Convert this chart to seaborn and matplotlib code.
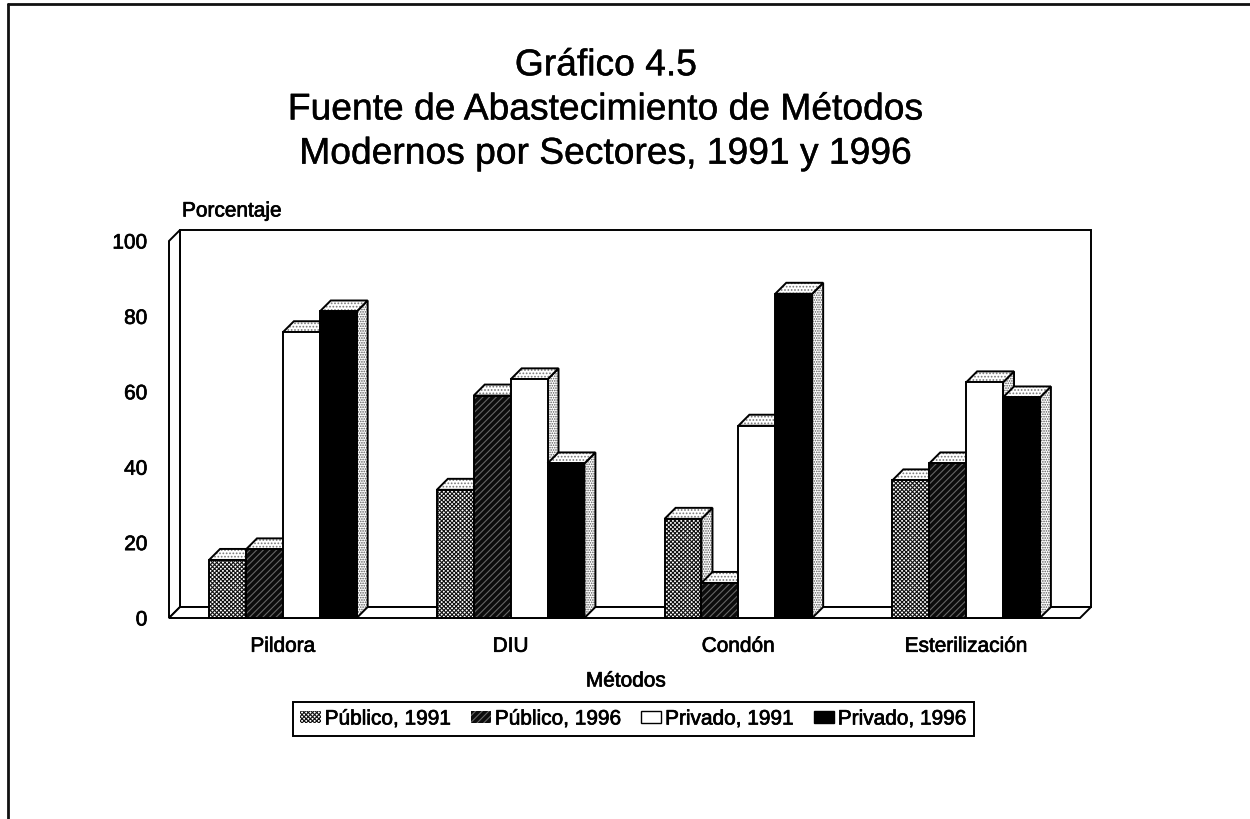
import matplotlib
matplotlib.use("Agg")
import matplotlib.pyplot as plt
import matplotlib.patheffects as pe
from matplotlib.patches import Polygon, Rectangle
from matplotlib.lines import Line2D
import pandas as pd
import seaborn as sns

metodos = ["Pildora", "DIU", "Condón", "Esterilización"]
publico_1991 = [15.4, 34, 26.3, 36.5]
publico_1996 = [18.2, 59, 9.3, 41]
privado_1991 = [75.8, 63.3, 51, 62.5]
privado_1996 = [81.3, 41, 86, 58.5]
series = ["Público, 1991", "Público, 1996", "Privado, 1991", "Privado, 1996"]
title_lines = "Gráfico 4.5\nFuente de Abastecimiento de Métodos\nModernos por Sectores, 1991 y 1996"

sns.set_theme(style="white")
plt.rcParams["font.family"] = ["Liberation Sans", "DejaVu Sans"]
plt.rcParams["hatch.linewidth"] = 0.8

df = pd.DataFrame({
    "Métodos": metodos * 4,
    "Sector": [s for s in series for _ in metodos],
    "Porcentaje": publico_1991 + publico_1996 + privado_1991 + privado_1996,
})

W, H = 1250, 820
fig = plt.figure(figsize=(12.5, 8.2), dpi=100, facecolor="white")
ax = fig.add_axes([169 / W, 1 - 619 / H, 911 / W, 377 / H])
ax.patch.set_visible(False)

styles = {
    series[0]: dict(face="white", hatch_col="#111111", hatch="xxxxxxxx"),
    series[1]: dict(face="#0c0c0c", hatch_col="#666666", hatch="/////"),
    series[2]: dict(face="white", hatch_col="white", hatch=None),
    series[3]: dict(face="black", hatch_col="black", hatch=None),
}
palette = {k: v["face"] for k, v in styles.items()}
sns.barplot(data=df, x="Métodos", y="Porcentaje", hue="Sector", order=metodos,
            hue_order=series, palette=palette, saturation=1, width=0.648, gap=0,
            dodge=True, legend=False, ax=ax)
ax.set_xlim(-0.5, 3.5)
ax.set_ylim(0, 100)

# 3D depth expressed in data units
dx = 11 / (911 / 4)
dy = 11 / 3.77
ax.set_yticks(range(0, 101, 20))

def poly(pts, face="white", hatch=None, z=1, lw=1.4, edge="black"):
    p = Polygon(pts, closed=True, facecolor=face, edgecolor=edge, lw=lw, hatch=hatch,
                joinstyle="miter", zorder=z, clip_on=False)
    ax.add_patch(p)
    return p

x0, x1 = ax.get_xlim()
y0, y1 = ax.get_ylim()
poly([(x0 + dx, y0 + dy), (x1 + dx, y0 + dy), (x1 + dx, y1 + dy), (x0 + dx, y1 + dy)], z=1)
poly([(x0, y0), (x0 + dx, y0 + dy), (x0 + dx, y1 + dy), (x0, y1)], z=1.1)
poly([(x0, y0), (x1, y0), (x1 + dx, y0 + dy), (x0 + dx, y0 + dy)], z=1.2)

z = 3.0
for n, cat in enumerate(metodos):
    for cont, name in zip(ax.containers, series):
        bar = cont[n]
        l, w, h = bar.get_x(), bar.get_width(), bar.get_height()
        st = styles[name]
        side_pts = [(l + w, 0), (l + w + dx, dy), (l + w + dx, h + dy), (l + w, h)]
        top_pts = [(l, h), (l + w, h), (l + w + dx, h + dy), (l + dx, h + dy)]
        poly(side_pts, hatch=".......", z=z, lw=0, edge="#555555")
        poly(side_pts, face="none", z=z + 0.01)
        poly(top_pts, hatch=".....", z=z + 0.02, lw=0, edge="#777777")
        poly(top_pts, face="none", z=z + 0.03)
        bar.set_zorder(z + 0.04)
        bar.set_facecolor(st["face"])
        bar.set_edgecolor(st["hatch_col"])
        bar.set_linewidth(0)
        if st["hatch"]:
            bar.set_hatch(st["hatch"])
        ax.add_patch(Rectangle((l, 0), w, h, fill=False, edgecolor="black", lw=1.4,
                               zorder=z + 0.05, clip_on=False))
        z += 0.1

bold = [pe.withStroke(linewidth=0.5, foreground="black")]
for s in ax.spines.values():
    s.set_visible(False)
ax.tick_params(axis="both", length=0, labelsize=15)
ax.tick_params(axis="y", pad=15.5)
ax.tick_params(axis="x", pad=13.5)
for t in ax.get_xticklabels() + ax.get_yticklabels():
    t.set_color("black")
    t.set_path_effects(bold)
ax.set_xlabel("")
ax.set_ylabel("")

ttl = fig.text(606 / W, 1 - 111 / H, title_lines, ha="center", va="center", fontsize=26.8,
               linespacing=1.34, color="black")
ttl.set_path_effects([pe.withStroke(linewidth=0.3, foreground="black")])
for label, px, py, ha in [("Porcentaje", 182, 212, "left"), ("Métodos", 626, 682, "center")]:
    fig.text(px / W, 1 - py / H, label, ha=ha, va="center", fontsize=15, color="black",
             path_effects=bold)

handles = []
for name in series:
    st = styles[name]
    handles.append(Rectangle((0, 0), 1, 1, facecolor=st["face"],
                             edgecolor="black" if st["hatch"] is None else st["hatch_col"],
                             hatch=st["hatch"], lw=1 if st["hatch"] is None else 0, label=name))
leg = fig.legend(handles=handles, loc="center", bbox_to_anchor=(633.5 / W, 1 - 720 / H), ncol=4,
                 frameon=True, fancybox=False, edgecolor="black", framealpha=1, fontsize=15,
                 handlelength=0.98, handleheight=0.55, handletextpad=0.18, columnspacing=0.95,
                 borderpad=0.38, borderaxespad=0, labelcolor="black")
leg.get_frame().set_linewidth(1.4)
for t in leg.get_texts():
    t.set_path_effects(bold)

# page frame of the scanned sheet
fig.add_artist(Line2D([8 / W, 8 / W], [0, 1 - 5 / H], color="#111111", lw=2))
fig.add_artist(Line2D([8 / W, 1], [1 - 5 / H, 1 - 5 / H], color="#111111", lw=2))

fig.savefig("out.png", dpi=100, facecolor="white")
